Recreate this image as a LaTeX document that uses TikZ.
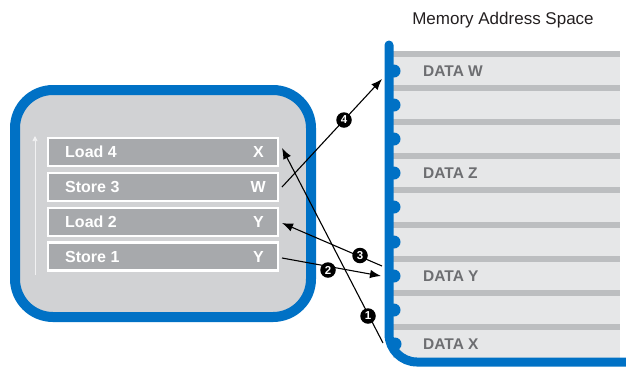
\documentclass[tikz,border=0pt]{standalone}
\usepackage{fontspec}
\setmainfont{Liberation Sans}
\usetikzlibrary{arrows.meta}
\definecolor{iblue}{HTML}{0071C5}
\definecolor{boxgray}{HTML}{D1D2D4}
\definecolor{rowgray}{HTML}{A7A9AC}
\definecolor{memgray}{HTML}{E6E7E8}
\definecolor{stripe}{HTML}{BCBEC0}
\definecolor{datatext}{HTML}{6D6E71}
\definecolor{titletext}{HTML}{231F20}
\tikzset{
  rowbox/.style={draw=white, line width=2.5pt, fill=rowgray, minimum width=230pt, minimum height=28pt, inner sep=0pt},
  rowtext/.style={text=white, font=\fontsize{16}{17}\selectfont\bfseries, inner sep=0pt},
  datalabel/.style={text=datatext, font=\fontsize{15.5}{17}\selectfont\bfseries, inner sep=0pt, anchor=west},
  arr/.style={black, line width=1.1pt, -{Latex[length=11pt,width=8.5pt]}},
  marker/.style={circle, fill=black, text=white, font=\fontsize{11.5}{12}\selectfont\bfseries, minimum size=15.5pt, inner sep=0pt},
  bump/.style={iblue},
  stripebar/.style={fill=stripe},
}
\begin{document}
\begin{tikzpicture}[x=1pt,y=-1pt]
\useasboundingbox (0,0) rectangle (626,368);
% title
\node[text=titletext, font=\fontsize{17}{19}\selectfont] (title) at (503,20) {Memory Address Space};
% memory area
\fill[memgray] (393,51) rectangle (620,358);
\foreach \y in {51,85,119,153,187,222,256,290,324}{
  \fill[stripebar] (393,\y) rectangle (620,\y+6);
}
\draw[iblue, line width=9pt, line cap=round, rounded corners=28pt] (389,45) -- (389,362) -- (640,362);
\foreach \y in {71,105,139,173,207,242,276,310}{
  \fill[bump] (394,\y) circle (6.5pt);
}
\fill[bump] (395,344) circle (6.5pt);
\node[datalabel] (dw) at (423,71) {DATA W};
\node[datalabel] (dz) at (423,173) {DATA Z};
\node[datalabel] (dy) at (423,276) {DATA Y};
\node[datalabel] (dx) at (423,344) {DATA X};
% CPU box
\node[draw=iblue, line width=10pt, fill=boxgray, rounded corners=38pt, minimum width=296pt, minimum height=227pt, inner sep=0pt] (cpu) at (163,203.5) {};
% thin arrow
\coordinate (ta) at (35,275);
\coordinate (tb) at (35,136);
\draw[white!70!boxgray, line width=0.7pt, -{Triangle[length=5pt,width=5pt]}] (ta) -- (tb);
% rows
\node[rowbox] (r4) at (163,152) {};
\node[rowbox] (r3) at (163,187) {};
\node[rowbox] (r2) at (163,222) {};
\node[rowbox] (r1) at (163,256.5) {};
\node[rowtext, anchor=west] (t4) at (65,152) {Load 4};
\node[rowtext, anchor=west] (t3) at (65,187) {Store 3};
\node[rowtext, anchor=west] (t2) at (65,222) {Load 2};
\node[rowtext, anchor=west] (t1) at (65,256.5) {Store 1};
\node[rowtext, anchor=east] (v4) at (264,152) {X};
\node[rowtext, anchor=east] (v3) at (266,187) {W};
\node[rowtext, anchor=east] (v2) at (264,222) {Y};
\node[rowtext, anchor=east] (v1) at (264,256.5) {Y};
% arrow end points
\coordinate (s3) at (282,187);
\coordinate (mw) at (382,79);
\coordinate (mx) at (383,343);
\coordinate (l4) at (282,148);
\coordinate (s1) at (282,258);
\coordinate (my) at (381,276);
\coordinate (my2) at (382,266);
\coordinate (l2) at (282,223);
\draw[arr] (s3) -- (mw);
\draw[arr] (mx) -- (l4);
\draw[arr] (s1) -- (my);
\draw[arr] (my2) -- (l2);
% markers
\node[marker] (n4) at (344,120) {4};
\node[marker] (n3) at (360,255.5) {3};
\node[marker] (n2) at (328,270) {2};
\node[marker] (n1) at (368,316) {1};
\end{tikzpicture}
\end{document}
